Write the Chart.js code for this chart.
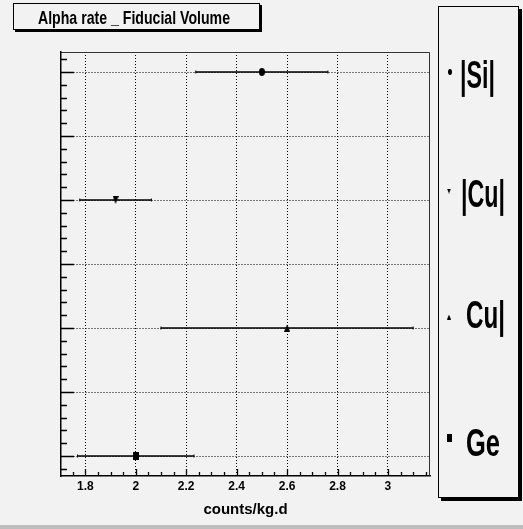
<!DOCTYPE html>
<html>
<head>
<meta charset="utf-8">
<script src="https://cdn.jsdelivr.net/npm/chart.js@4.4.1/dist/chart.umd.min.js"></script>
<style>
  html, body { margin: 0; padding: 0; background: #f2f2f2; }
  canvas { display: block; }
</style>
</head>
<body>
<canvas id="c" width="523" height="529" style="width:523px;height:529px"></canvas>
<script>
// ---- data ----
const categories = ['|Si|', '|Cu|', 'Cu|', 'Ge'];
const rates      = [2.50, 1.92, 2.60, 2.00];   // counts/kg.d
const rateErrors = [0.262, 0.142, 0.50, 0.231];
const rowPos     = [7, 5, 3, 1];               // vertical position of each entry
const xTickValues = [1.8, 2.0, 2.2, 2.4, 2.6, 2.8, 3.0];
const xTickLabels = ['1.8', '2', '2.2', '2.4', '2.6', '2.8', '3'];
const yGridValues = [1, 2, 3, 4, 5, 6, 7];
const chartTitle = 'Alpha rate _ Fiducial Volume';
const xTitle = 'counts/kg.d';

const FONT = "'Liberation Sans Narrow', 'Liberation Sans', Arial, sans-serif";

// ---- marker images ----
function makeMarker(shape, w, h) {
  const c = document.createElement('canvas');
  c.width = w; c.height = h;
  const g = c.getContext('2d');
  g.fillStyle = '#000';
  g.beginPath();
  if (shape === 'circle') {
    g.ellipse(w / 2, h / 2, w / 2, h / 2, 0, 0, Math.PI * 2);
  } else if (shape === 'down') {
    g.moveTo(0, 0); g.lineTo(w, 0); g.lineTo(w / 2, h);
  } else if (shape === 'up') {
    g.moveTo(w / 2, 0); g.lineTo(w, h); g.lineTo(0, h);
  } else {
    g.rect(0, 0, w, h);
  }
  g.closePath();
  g.fill();
  return c;
}
const plotMarkers = [makeMarker('circle', 6, 8), makeMarker('down', 6, 8), makeMarker('up', 6, 7), makeMarker('square', 6, 8)];
const legendMarkers = [makeMarker('circle', 4, 6), makeMarker('down', 4, 5), makeMarker('up', 4, 5), makeMarker('square', 5, 8)];

// ---- datasets ----
const datasets = [];
categories.forEach((name, i) => {
  datasets.push({
    type: 'scatter',
    label: name,
    data: [{ x: rates[i], y: rowPos[i] }],
    pointStyle: plotMarkers[i],
    pointRadius: 4,
    order: 0
  });
  datasets.push({
    type: 'line',
    label: name + ' error',
    data: [{ x: rates[i] - rateErrors[i], y: rowPos[i] }, { x: rates[i] + rateErrors[i], y: rowPos[i] }],
    borderColor: '#000',
    borderWidth: 1.5,
    pointStyle: 'line',
    pointRotation: 90,
    pointRadius: 1.5,
    pointBorderColor: '#000',
    pointBorderWidth: 1,
    fill: false,
    order: 1
  });
});

// ---- helpers ----
function fitText(ctx, txt, x, baseline, sizePx, targetW, align) {
  ctx.save();
  ctx.font = 'bold ' + sizePx + 'px ' + FONT;
  const w = ctx.measureText(txt).width;
  const sx = targetW / w;
  let x0 = x;
  if (align === 'center') x0 = x - targetW / 2;
  ctx.translate(x0, baseline);
  ctx.scale(sx, 1);
  ctx.textAlign = 'left';
  ctx.textBaseline = 'alphabetic';
  ctx.fillStyle = '#000';
  ctx.fillText(txt, 0, 0);
  ctx.restore();
}
function shadowBox(ctx, x, y, w, h, sh) {
  ctx.save();
  ctx.fillStyle = '#000';
  ctx.fillRect(x + sh, y + sh, w, h);
  ctx.fillStyle = '#f2f2f2';
  ctx.fillRect(x, y, w, h);
  ctx.strokeStyle = '#000';
  ctx.lineWidth = 1;
  ctx.strokeRect(x + 0.5, y + 0.5, w - 1, h - 1);
  ctx.restore();
}

const decorPlugin = {
  id: 'decor',
  beforeDraw(chart) {
    const ctx = chart.ctx;
    ctx.save();
    ctx.fillStyle = '#f2f2f2';
    ctx.fillRect(0, 0, chart.width, chart.height);
    ctx.fillStyle = '#bdbdbd';
    ctx.fillRect(0, 525, chart.width, chart.height - 525);
    ctx.restore();
  },
  afterDraw(chart) {
    const ctx = chart.ctx;
    const a = chart.chartArea;
    const xs = chart.scales.x, ys = chart.scales.y;
    ctx.save();
    // frame
    ctx.strokeStyle = '#333';
    ctx.lineWidth = 1;
    ctx.beginPath();
    ctx.moveTo(a.left, a.top + 0.5); ctx.lineTo(a.right - 0.5, a.top + 0.5); ctx.lineTo(a.right - 0.5, a.bottom);
    ctx.stroke();
    // y ticks (inside)
    ctx.strokeStyle = '#000';
    ctx.lineWidth = 1.3;
    ctx.beginPath();
    for (let k = Math.ceil(ys.min * 5); k <= Math.floor(ys.max * 5); k++) {
      const v = k / 5;
      const py = Math.round(ys.getPixelForValue(v)) + 0.5;
      const len = (k % 5 === 0) ? 13 : 6;
      ctx.moveTo(a.left, py); ctx.lineTo(a.left + len, py);
    }
    // x ticks (inside)
    for (let k = Math.ceil(xs.min * 20); k <= Math.floor(xs.max * 20); k++) {
      const v = k / 20;
      const px = Math.round(xs.getPixelForValue(v)) + 0.5;
      const len = (k % 4 === 0) ? 7 : 4;
      ctx.moveTo(px, a.bottom); ctx.lineTo(px, a.bottom - len);
    }
    ctx.stroke();
    ctx.restore();

    // title box
    shadowBox(ctx, 13, 3, 247, 27, 2);
    fitText(ctx, chartTitle, 134, 24, 19, 192, 'center');

    // legend box
    shadowBox(ctx, 438, 6, 81, 492, 3);
    const lg = [
      { mx: 450, my: 72,  tx: 460, tb: 88,  tw: 35 },
      { mx: 449, my: 191, tx: 461, tb: 207, tw: 44 },
      { mx: 449, my: 317, tx: 466, tb: 328, tw: 39 },
      { mx: 449, my: 438, tx: 466, tb: 456, tw: 34 }
    ];
    categories.forEach((name, i) => {
      const m = legendMarkers[i];
      ctx.drawImage(m, lg[i].mx - m.width / 2, lg[i].my - m.height / 2);
      fitText(ctx, name, lg[i].tx, lg[i].tb, 38, lg[i].tw, 'left');
    });
  }
};

new Chart(document.getElementById('c'), {
  data: { datasets },
  plugins: [decorPlugin],
  options: {
    responsive: false,
    animation: false,
    devicePixelRatio: 1,
    layout: { padding: { top: 52, right: 93, left: 0, bottom: 0 } },
    plugins: { legend: { display: false }, tooltip: { enabled: false }, title: { display: false } },
    scales: {
      x: {
        type: 'linear',
        position: 'bottom',
        min: 1.7036,
        max: 3.1667,
        afterBuildTicks: (s) => { s.ticks = xTickValues.map(v => ({ value: v })); },
        afterFit: (s) => { s.height = 53; },
        ticks: {
          callback: (v, i) => xTickLabels[i],
          font: { family: FONT, size: 12, weight: 'bold' },
          color: '#000',
          padding: 3,
          maxRotation: 0,
          autoSkip: false
        },
        grid: { color: '#000', lineWidth: 1, drawTicks: false },
        border: { display: true, color: '#000', width: 1.5, dash: [1, 2] },
        title: {
          display: true,
          text: xTitle,
          font: { family: FONT, size: 15, weight: 'bold' },
          color: '#000',
          padding: { top: 0, bottom: 10 }
        }
      },
      y: {
        type: 'linear',
        min: 0.6875,
        max: 7.3125,
        afterBuildTicks: (s) => { s.ticks = yGridValues.map(v => ({ value: v })); },
        afterFit: (s) => { s.width = 61; },
        ticks: { display: false },
        grid: { color: '#000', lineWidth: 1, drawTicks: false },
        border: { display: true, color: '#000', width: 1.5, dash: [1, 2] }
      }
    }
  }
});
</script>
</body>
</html>
